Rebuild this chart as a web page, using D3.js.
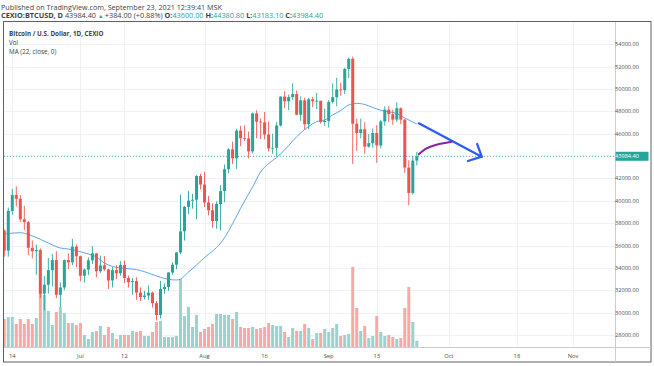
<!DOCTYPE html>
<html lang="en">
<head>
<meta charset="UTF-8">
<title>BTCUSD daily</title>
<script src="https://cdn.jsdelivr.net/npm/d3@7"></script>
<style>
    body { margin: 0; padding: 0; background: #fff; }
    svg { display: block; font-family: "Open Sans", "Noto Sans", sans-serif; }
</style>
</head>
<body>
<svg id="chart" width="654" height="366"></svg>
<script>
// daily candles, Jun 12 .. Sep 23 2021 (CEXIO BTCUSD)
const startDay = "2021-06-12";
const opens = [37340,35550,39100,40530,40180,38350,38100,35800,35500,35600,31700,32500,33800,34700,31600,32250,34700,34500,35900,35050,
  33300,33850,34680,35300,33700,34230,33870,32880,33800,33520,34260,33100,32730,32820,31790,31400,31530,31780,30840,29790,
  32110,32290,33590,34290,35380,37270,39460,40020,40100,42220,41460,39850,39150,38200,39720,40870,42830,44600,43800,46280,
  45600,45580,44420,47820,47080,47020,45930,44690,44740,46740,49320,48900,49280,49550,47700,48990,46850,49080,48910,48950,
  47050,47150,48850,49270,49950,49900,51800,52700,46900,46070,46400,44850,45160,46060,44950,47100,48150,47750,47270,48280,
  47260,42970,40700,43600];
const highs = [37440,39400,41050,41300,40500,39550,38200,36450,36100,35750,33300,34900,35250,35500,32700,34750,35300,36600,36100,35100,
  33950,34950,35950,35300,35100,35050,33920,34080,34250,34600,34660,33330,33100,33170,32250,31950,32430,31880,31050,32840,
  32590,33620,34500,35400,40550,39540,40900,40630,42300,42400,42600,40450,39780,39950,41400,43250,44700,45300,46450,46700,
  46750,46200,47900,48100,47360,47950,47100,46000,47050,49350,49800,49500,50500,49870,49350,49240,49200,49300,49650,48950,
  48250,49000,50500,51000,50550,51900,52800,52900,47350,47350,47040,45980,46460,46770,47250,48450,48490,48150,48800,48360,
  47330,43630,44000,44380.8];
const lows = [35000,35000,38750,39500,38100,37400,35150,34850,33400,31300,30200,31700,32350,31300,30500,32000,33900,34250,34050,32800,
  32700,33350,34350,33150,33550,33750,32100,32250,33000,33300,32650,32240,31600,31150,31020,31180,31120,30460,29300,29480,
  31700,31950,33400,33890,35240,36440,38800,39300,38350,41020,39450,38700,37600,37500,37350,39880,42460,43300,42860,44900,
  45350,43800,44250,45600,45530,45500,44400,44200,43950,46640,48300,48100,49030,47650,47150,46370,46400,48380,48200,46900,
  46700,46550,48700,48450,49400,49550,50980,43300,44450,45600,44200,44750,44750,43400,44680,46720,47060,46800,47050,46850,
  42500,39600,40550,43183.1];
const closes = [35550,39100,40530,40180,38350,38100,35800,35500,35600,31700,32500,33800,34700,31600,32250,34700,34500,35900,35050,33300,
  33850,34680,35300,33700,34230,33870,32880,33800,33520,34260,33100,32730,32820,31790,31400,31530,31780,30840,29790,32110,
  32290,33590,34290,35380,37270,39460,40020,40100,42220,41460,39850,39150,38200,39720,40870,42830,44600,43800,46280,45600,
  45580,44420,47820,47080,47020,45930,44690,44740,46740,49320,48900,49280,49550,47700,48990,46850,49080,48910,48950,47050,
  47150,48850,49270,49950,49900,51800,52700,46900,46070,46400,44850,45160,46060,44950,47100,48150,47750,47270,48280,47260,
  42970,40700,43600,43984.4];
const volumes = [2800,3000,3000,2300,2800,2300,2800,2300,2900,5400,5200,3600,2200,3500,4000,3400,2400,2400,2200,2400,
  1200,800,1500,1600,2100,1200,2000,1400,800,1200,1200,1200,1600,1500,1600,1100,1100,1500,2500,2600,
  1000,1000,1000,1100,6800,3100,4000,2000,3200,1500,1800,2000,2300,3300,3300,3200,3200,2800,3500,2000,
  1900,1900,2000,1800,1900,2000,2400,2200,2100,2100,1500,1000,1900,1600,1600,2300,1900,800,1400,1400,
  1800,1500,1900,2300,1100,1200,1300,8000,3900,1600,2100,900,1100,3100,1500,1100,1200,1000,800,900,
  3900,6000,2500,600];

// MA (22, close, 0)
const maDates = ["2021-06-12","2021-06-16","2021-06-18","2021-06-21","2021-06-23","2021-06-26","2021-06-28","2021-07-01","2021-07-03","2021-07-05",
  "2021-07-07","2021-07-09","2021-07-12","2021-07-16","2021-07-18","2021-07-21","2021-07-23","2021-07-25","2021-07-26","2021-07-28",
  "2021-07-30","2021-08-01","2021-08-03","2021-08-05","2021-08-07","2021-08-09","2021-08-11","2021-08-13","2021-08-15","2021-08-17",
  "2021-08-19","2021-08-21","2021-08-23","2021-08-25","2021-08-27","2021-08-29","2021-08-31","2021-09-02","2021-09-04","2021-09-06",
  "2021-09-08","2021-09-10","2021-09-12","2021-09-14","2021-09-16","2021-09-18","2021-09-20","2021-09-22","2021-09-23"];
const maValues = [37030,37150,36990,36560,36230,35780,35690,35450,35240,34980,
  34440,34130,33970,33770,33540,33160,32980,32920,33010,33630,
  34260,34930,35510,36200,37300,38640,39980,41240,42580,43340,
  43870,44550,45350,46070,46650,47080,47230,47680,48080,48570,
  48720,48620,48350,48100,47970,47810,47410,47050,46870];

const priceTicks = [28000,30000,32000,34000,36000,38000,40000,42000,44000,46000,48000,50000,52000,54000];
const dateTicks = ["2021-06-14","2021-07-01","2021-07-12","2021-08-01","2021-08-16","2021-09-01","2021-09-13","2021-10-01","2021-10-18","2021-11-01"];
const dateTickLabels = ["14","Jul","12","Aug","16","Sep","13","Oct","18","Nov"];

// hand-drawn annotations
const arrowLine = [["2021-09-23T12:00",46930],["2021-10-09T05:00",43950]];
const arrowHead = [["2021-10-08T02:00",45080],["2021-10-09T05:00",43950],["2021-10-05T18:00",43560]];
const curvePath = [["2021-09-23T12:00",44160],["2021-09-25T05:00",44640],["2021-09-27T17:00",45000],["2021-10-01T17:00",45290]];

const lastPrice = 43984.4;

const UP = "#26a69a", DOWN = "#ef5350";
const UP_VOL = "#9ad3cd", DOWN_VOL = "#f6a9a7";

const parse = s => new Date(s + (s.length === 10 ? "T00:00:00Z" : ":00Z"));
const day0 = parse(startDay);
const candles = opens.map((o, i) => ({
    date: new Date(day0.getTime() + i * 864e5),
    o: o, h: highs[i], l: lows[i], c: closes[i], v: volumes[i]
}));

const svg = d3.select("#chart");
const pane = { left: 4, right: 615, top: 22, bottom: 347.5 };

const x = d3.scaleUtc()
    .domain([parse("2021-06-14"), parse("2021-11-01")])
    .range([12.3, 573]);
const y = d3.scaleLinear().domain([28000, 54000]).range([335, 44.3]);
const yVol = d3.scaleLinear().domain([0, d3.max(volumes)]).range([347, 267]);

svg.append("defs").append("clipPath").attr("id", "paneClip")
    .append("rect")
    .attr("x", pane.left).attr("y", pane.top)
    .attr("width", pane.right - pane.left).attr("height", pane.bottom - pane.top);

// grid
const grid = svg.append("g").attr("stroke", "#eef1f6").attr("stroke-width", 1);
grid.selectAll("line.h").data(priceTicks).enter().append("line")
    .attr("x1", pane.left).attr("x2", pane.right)
    .attr("y1", d => Math.round(y(d)) + 0.5).attr("y2", d => Math.round(y(d)) + 0.5);
grid.selectAll("line.v").data(dateTicks).enter().append("line")
    .attr("y1", pane.top).attr("y2", pane.bottom)
    .attr("x1", d => Math.round(x(parse(d))) + 0.5).attr("x2", d => Math.round(x(parse(d))) + 0.5);

const plot = svg.append("g").attr("clip-path", "url(#paneClip)");

// volume
plot.append("g").selectAll("rect").data(candles).enter().append("rect")
    .attr("x", d => x(d.date) - 1.5)
    .attr("width", 3)
    .attr("y", d => yVol(d.v))
    .attr("height", d => yVol(0) - yVol(d.v))
    .attr("fill", d => d.c >= d.o ? UP_VOL : DOWN_VOL);

// MA line
const maData = maDates.map((d, i) => [parse(d), maValues[i]]);
plot.append("path")
    .datum(maData)
    .attr("fill", "none")
    .attr("stroke", "#4a9ae8")
    .attr("stroke-width", 0.9)
    .attr("d", d3.line().x(d => x(d[0])).y(d => y(d[1])).curve(d3.curveMonotoneX));

// last price line
plot.append("line")
    .attr("x1", pane.left).attr("x2", pane.right)
    .attr("y1", y(lastPrice)).attr("y2", y(lastPrice))
    .attr("stroke", UP).attr("stroke-width", 0.8).attr("stroke-dasharray", "1,2");

// candles
const cg = plot.append("g").selectAll("g").data(candles).enter().append("g")
    .attr("fill", d => d.c >= d.o ? UP : DOWN)
    .attr("stroke", d => d.c >= d.o ? UP : DOWN);
cg.append("line")
    .attr("x1", d => x(d.date)).attr("x2", d => x(d.date))
    .attr("y1", d => y(d.h)).attr("y2", d => y(d.l))
    .attr("stroke-width", 0.9);
cg.append("rect")
    .attr("stroke", "none")
    .attr("x", d => x(d.date) - 1.5)
    .attr("width", 3)
    .attr("y", d => y(Math.max(d.o, d.c)))
    .attr("height", d => Math.max(0.8, Math.abs(y(d.o) - y(d.c))));

// drawings
const pt = d => [x(parse(d[0])), y(d[1])];
plot.append("path")
    .attr("d", d3.line()(arrowLine.map(pt)))
    .attr("fill", "none").attr("stroke", "#2c5cf0").attr("stroke-width", 2.3).attr("stroke-linecap", "round");
plot.append("path")
    .attr("d", d3.line()(arrowHead.map(pt)))
    .attr("fill", "none").attr("stroke", "#2c5cf0").attr("stroke-width", 2.3)
    .attr("stroke-linecap", "round").attr("stroke-linejoin", "round");
plot.append("path")
    .attr("d", d3.line().curve(d3.curveNatural)(curvePath.map(pt)))
    .attr("fill", "none").attr("stroke", "#8a22a8").attr("stroke-width", 2).attr("stroke-linecap", "round");

// frame
const frame = svg.append("g").attr("fill", "none");
frame.append("rect").attr("x", 3.5).attr("y", 21.5).attr("width", 647.5).attr("height", 340.5)
    .attr("stroke", "#5d606b").attr("stroke-width", 1);
frame.append("line").attr("x1", pane.right + 0.5).attr("x2", pane.right + 0.5).attr("y1", 22).attr("y2", 362)
    .attr("stroke", "#c9ccd3");
frame.append("line").attr("x1", 4).attr("x2", 651).attr("y1", pane.bottom).attr("y2", pane.bottom)
    .attr("stroke", "#c9ccd3");

// price axis
svg.append("g").selectAll("text").data(priceTicks).enter().append("text")
    .attr("x", 627).attr("y", d => y(d))
    .attr("dy", "0.35em")
    .attr("text-anchor", "middle")
    .attr("font-size", 5.6)
    .attr("fill", "#4a4d55")
    .text(d => d3.format(".2f")(d));

svg.append("rect")
    .attr("x", 615.5).attr("y", y(lastPrice) - 4.5)
    .attr("width", 33).attr("height", 9)
    .attr("fill", UP);
svg.append("text")
    .attr("x", 627).attr("y", y(lastPrice)).attr("dy", "0.35em")
    .attr("text-anchor", "middle").attr("font-size", 5.6).attr("fill", "#fff")
    .text(d3.format(".2f")(lastPrice));

// time axis
svg.append("g").selectAll("text").data(dateTicks).enter().append("text")
    .attr("x", d => x(parse(d))).attr("y", 355.5)
    .attr("dy", "0.35em")
    .attr("text-anchor", "middle")
    .attr("font-size", 5.8)
    .attr("fill", "#4a4d55")
    .text((d, i) => dateTickLabels[i]);

// header
svg.append("text").attr("x", 1).attr("y", 7).attr("dy", "0.35em")
    .attr("font-size", 7.2).attr("fill", "#3c3f46")
    .text("Published on TradingView.com, September 23, 2021 12:39:41 MSK");

const h2 = svg.append("text").attr("x", 1).attr("y", 15.7).attr("dy", "0.35em")
    .attr("font-size", 7.3).attr("fill", "#3c3f46");
const seg = [
    ["CEXIO:BTCUSD, D ", "#3c3f46", "bold"],
    ["43984.40 ", "#3c3f46", "normal"],
    ["\u25B2 ", UP, "normal"],
    ["+384.00 (+0.88%) ", "#3c3f46", "normal"],
    ["O:", "#3c3f46", "bold"], ["43600.00 ", UP, "normal"],
    ["H:", "#3c3f46", "bold"], ["44380.80 ", UP, "normal"],
    ["L:", "#3c3f46", "bold"], ["43183.10 ", UP, "normal"],
    ["C:", "#3c3f46", "bold"], ["43984.40", UP, "normal"]
];
seg.forEach(s => {
    h2.append("tspan").attr("fill", s[1]).attr("font-weight", s[2])
        .attr("font-size", s[0] === "\u25B2 " ? 5.5 : 7.3).text(s[0]);
});

// legend
const legend = svg.append("g").attr("fill", "#3c3f46");
legend.append("text").attr("x", 9).attr("y", 33.3).attr("dy", "0.35em")
    .attr("font-size", 6.3).attr("font-weight", "bold")
    .text("Bitcoin / U.S. Dollar, 1D, CEXIO");
legend.append("text").attr("x", 9).attr("y", 42.7).attr("dy", "0.35em")
    .attr("font-size", 6.3).text("Vol");
legend.append("text").attr("x", 9).attr("y", 52).attr("dy", "0.35em")
    .attr("font-size", 6.3).text("MA (22, close, 0)");
</script>
</body>
</html>
